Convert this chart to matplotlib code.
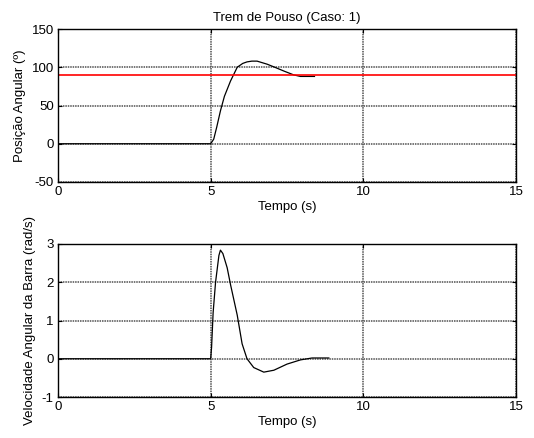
import numpy as np
import matplotlib.pyplot as plt

plt.rcParams['font.family'] = ['Liberation Sans', 'DejaVu Sans']
plt.rcParams['font.size'] = 9.5
plt.rcParams['axes.unicode_minus'] = False

# posição angular (graus)
t_pos = [0, 5.0, 5.1, 5.2, 5.32, 5.45, 5.65, 5.87, 6.05, 6.19, 6.35, 6.52, 6.85, 7.1, 7.4, 7.72, 7.94, 8.32, 8.4]
y_pos = [0, 0, 6, 22, 43, 62, 82, 100, 105, 107, 108, 108, 104, 100, 95, 90, 88, 88, 88]
referencia = 90

# velocidade angular (rad/s)
t_vel = [0, 5.0, 5.03, 5.08, 5.16, 5.27, 5.32, 5.4, 5.54, 5.65, 5.87, 6.03, 6.19, 6.41, 6.74, 7.07, 7.5, 7.94, 8.32, 8.87]
y_vel = [0, 0, 0.3, 1.2, 2.0, 2.7, 2.84, 2.75, 2.38, 1.94, 1.14, 0.39, 0.0, -0.23, -0.35, -0.3, -0.14, -0.03, 0.02, 0.02]

fig = plt.figure(figsize=(5.34, 4.38), dpi=100)
ax1 = fig.add_axes([58/534, 1 - 182/438, 458/534, 153/438])
ax2 = fig.add_axes([58/534, 1 - 397/438, 458/534, 153/438])

ax1.plot(t_pos, y_pos, color='k', lw=0.9)
ax1.axhline(referencia, color='r', lw=1.2)
ax1.set_xlim(0, 15)
ax1.set_ylim(-50, 150)
ax1.set_yticks([-50, 0, 50, 100, 150])
ax1.set_title('Trem de Pouso (Caso: 1)', fontsize=9.5)
ax1.set_ylabel('Posição Angular (º)')
ax1.set_xlabel('Tempo (s)')

ax2.plot(t_vel, y_vel, color='k', lw=0.9)
ax2.set_xlim(0, 15)
ax2.set_ylim(-1, 3)
ax2.set_yticks([-1, 0, 1, 2, 3])
ax2.set_ylabel('Velocidade Angular da Barra (rad/s)')
ax2.set_xlabel('Tempo (s)')

for ax in (ax1, ax2):
    ax.set_xticks([0, 5, 10, 15])
    ax.grid(True, color='#505050', ls=(0, (1, 0.6)), lw=1.1)
    ax.tick_params(direction='in', top=True, right=True, length=3, pad=3)
    for s in ax.spines.values():
        s.set_linewidth(1.0)
    ax.xaxis.labelpad = 2

fig.savefig('out.png', dpi=100)
